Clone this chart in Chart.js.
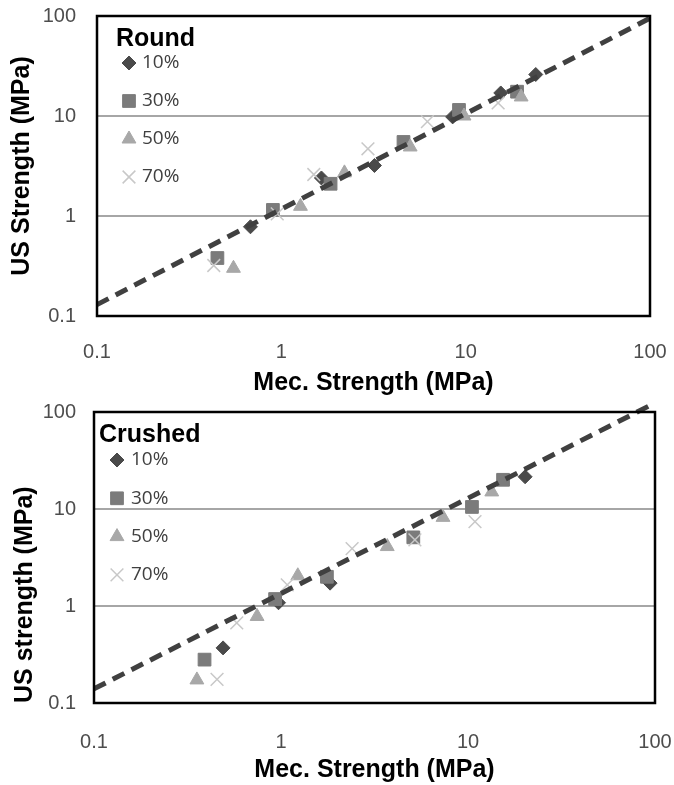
<!DOCTYPE html>
<html>
<head>
<meta charset="utf-8">
<script src="https://cdn.jsdelivr.net/npm/chart.js@4.4.1/dist/chart.umd.min.js"></script>
<style>
  html, body { margin: 0; padding: 0; background: #fff; }
  #wrap { position: relative; width: 674px; height: 785px; overflow: hidden; }
  canvas { position: absolute; left: 0; }
  #roundChart { top: 0; }
  #crushedChart { top: 390px; }
</style>
</head>
<body>
<div id="wrap">
  <canvas id="roundChart" width="674" height="398"></canvas>
  <canvas id="crushedChart" width="674" height="395"></canvas>
</div>
<script>
// axis ticks (both axes, both panels)
const logTicks = [0.1, 1, 10, 100];
const seriesLabels = ['10%', '30%', '50%', '70%'];

// Round aggregate: mechanical vs ultrasonic strength (MPa)
const roundMec10 = [0.68, 1.65, 3.2, 8.5, 15.5, 24];
const roundUs10  = [0.78, 2.4, 3.2, 9.8, 17, 26];
const roundMec30 = [0.45, 0.9, 1.85, 4.6, 9.2, 19];
const roundUs30  = [0.38, 1.15, 2.1, 5.5, 11.5, 17.5];
const roundMec50 = [0.55, 1.27, 2.2, 5.0, 9.8, 20];
const roundUs50  = [0.30, 1.25, 2.7, 4.9, 10, 15.5];
const roundMec70 = [0.43, 0.95, 1.5, 2.95, 6.2, 15];
const roundUs70  = [0.32, 1.05, 2.6, 4.7, 8.8, 13.5];
const roundTrendMec = [0.1, 100];
const roundTrendUs  = [0.13, 95];

// Crushed aggregate
const crushedMec10 = [0.49, 0.97, 1.83, 20.2];
const crushedUs10  = [0.37, 1.08, 1.72, 21.5];
const crushedMec30 = [0.39, 0.93, 1.76, 5.1, 10.5, 15.4];
const crushedUs30  = [0.28, 1.18, 2.0, 5.1, 10.5, 20];
const crushedMec50 = [0.355, 0.745, 1.23, 3.7, 7.35, 13.4];
const crushedUs50  = [0.173, 0.78, 2.05, 4.1, 8.2, 15];
const crushedMec70 = [0.455, 0.58, 1.08, 2.4, 5.2, 10.9];
const crushedUs70  = [0.175, 0.67, 1.65, 3.9, 4.8, 7.4];
const crushedTrendMec = [0.1, 95];
const crushedTrendUs  = [0.14, 118];

const FONT = '"Liberation Sans", Arial, sans-serif';

const markerStyles = [
  { pointStyle: 'rectRot',  pointRadius: 7, backgroundColor: '#4a4a4a', borderColor: '#4a4a4a', borderWidth: 1 },
  { pointStyle: 'rect',     pointRadius: 9, backgroundColor: '#7b7b7b', borderColor: '#7b7b7b', borderWidth: 1 },
  { pointStyle: 'triangle', pointRadius: 8, backgroundColor: '#a8a8a8', borderColor: '#a8a8a8', borderWidth: 1 },
  { pointStyle: 'crossRot', pointRadius: 9, backgroundColor: '#c8c8c8', borderColor: '#c8c8c8', borderWidth: 1.5 }
];

function pairs(xs, ys) {
  return xs.map((x, i) => ({ x: x, y: ys[i] }));
}

// black box round the plot area
const plotFrame = {
  id: 'plotFrame',
  afterDraw(chart) {
    const a = chart.chartArea, ctx = chart.ctx;
    ctx.save();
    ctx.strokeStyle = '#000';
    ctx.lineWidth = 2.5;
    ctx.strokeRect(a.left, a.top, a.right - a.left, a.bottom - a.top);
    ctx.restore();
  }
};

// legend drawn inside the plot, title on top
const insetLegend = {
  id: 'insetLegend',
  afterDraw(chart, args, opts) {
    const ctx = chart.ctx;
    ctx.save();
    ctx.textAlign = 'left';
    ctx.textBaseline = 'middle';
    ctx.fillStyle = '#000';
    ctx.font = 'bold 25px ' + FONT;
    ctx.fillText(opts.title, opts.titleX, opts.titleY);
    ctx.font = '19px "Open Sans", sans-serif';
    chart.data.datasets.filter(d => !d.isTrend).forEach((ds, i) => {
      const y = opts.rowY + i * opts.rowGap;
      ctx.fillStyle = ds.backgroundColor;
      ctx.strokeStyle = ds.borderColor;
      ctx.lineWidth = ds.borderWidth;
      Chart.helpers.drawPoint(ctx, {
        pointStyle: ds.pointStyle, radius: ds.pointRadius,
        borderWidth: ds.borderWidth, rotation: 0
      }, opts.markerX, y);
      ctx.fillStyle = '#404040';
      ctx.fillText(ds.label, opts.labelX, y);
    });
    ctx.restore();
  }
};

function makeChart(id, p) {
  const datasets = p.series.map((s, i) => Object.assign({
    label: seriesLabels[i],
    data: pairs(s[0], s[1]),
    showLine: false,
    order: 4 - i
  }, markerStyles[i]));
  datasets.push({
    label: 'trend',
    isTrend: true,
    data: pairs(p.trend[0], p.trend[1]),
    showLine: true,
    pointRadius: 0,
    borderColor: '#404040',
    borderWidth: 5,
    borderDash: [13, 8],
    borderCapStyle: 'butt',
    clip: false,
    order: 0
  });

  return new Chart(document.getElementById(id), {
    type: 'scatter',
    data: { datasets: datasets },
    plugins: [plotFrame, insetLegend],
    options: {
      responsive: false,
      animation: false,
      layout: { padding: p.padding },
      plugins: {
        legend: { display: false },
        tooltip: { enabled: false },
        insetLegend: p.legend
      },
      scales: {
        x: {
          type: 'logarithmic',
          min: 0.1, max: 100,
          afterBuildTicks: (s) => { s.ticks = logTicks.map(v => ({ value: v })); },
          afterFit: (s) => {
            s.height = p.xHeight;
            // the tick padding should not widen the side margins
            s.paddingLeft = 0;
            s.paddingRight = 0;
          },
          grid: { display: false, drawTicks: false },
          border: { display: false },
          ticks: {
            padding: p.xTickPad,
            maxRotation: 0,
            color: '#4d4d4d',
            font: { family: FONT, size: 20 },
            callback: (v) => String(v)
          },
          title: {
            display: true,
            text: 'Mec. Strength (MPa)',
            color: '#000',
            font: { family: FONT, size: 25, weight: 'bold' },
            padding: { top: 0, bottom: 0 }
          }
        },
        y: {
          type: 'logarithmic',
          min: 0.1, max: 100,
          afterBuildTicks: (s) => { s.ticks = logTicks.map(v => ({ value: v })); },
          afterFit: (s) => {
            s.width = p.yWidth;
            s.paddingTop = 0;
            s.paddingBottom = 0;
          },
          grid: {
            drawTicks: false,
            lineWidth: 2,
            color: (c) => (c.tick && (c.tick.value === 1 || c.tick.value === 10)) ? '#a6a6a6' : 'rgba(0,0,0,0)'
          },
          border: { display: false },
          ticks: {
            padding: p.yTickPad,
            color: '#4d4d4d',
            font: { family: FONT, size: 20 },
            callback: (v) => String(v)
          },
          title: {
            display: true,
            text: p.yTitle,
            align: p.yTitleAlign,
            color: '#000',
            font: { family: FONT, size: 25, weight: 'bold' },
            padding: { top: p.yTitlePad, bottom: 0 }
          }
        }
      }
    }
  });
}

makeChart('roundChart', {
  series: [[roundMec10, roundUs10], [roundMec30, roundUs30], [roundMec50, roundUs50], [roundMec70, roundUs70]],
  trend: [roundTrendMec, roundTrendUs],
  padding: { left: 0, top: 16, right: 24, bottom: 0 },
  xHeight: 82, yWidth: 97,
  xTickPad: 24, yTickPad: 21,
  yTitle: 'US Strength (MPa)', yTitleAlign: 'center', yTitlePad: 7,
  legend: { title: 'Round', titleX: 116, titleY: 39, markerX: 129, labelX: 142, rowY: 63, rowGap: 38 }
});

makeChart('crushedChart', {
  series: [[crushedMec10, crushedUs10], [crushedMec30, crushedUs30], [crushedMec50, crushedUs50], [crushedMec70, crushedUs70]],
  trend: [crushedTrendMec, crushedTrendUs],
  padding: { left: 0, top: 22, right: 19, bottom: 0 },
  xHeight: 82, yWidth: 94,
  xTickPad: 27, yTickPad: 18,
  yTitle: 'US strength (MPa)', yTitleAlign: 'start', yTitlePad: 10,
  legend: { title: 'Crushed', titleX: 99, titleY: 45, markerX: 117, labelX: 131, rowY: 70, rowGap: 38.3 }
});
</script>
</body>
</html>
